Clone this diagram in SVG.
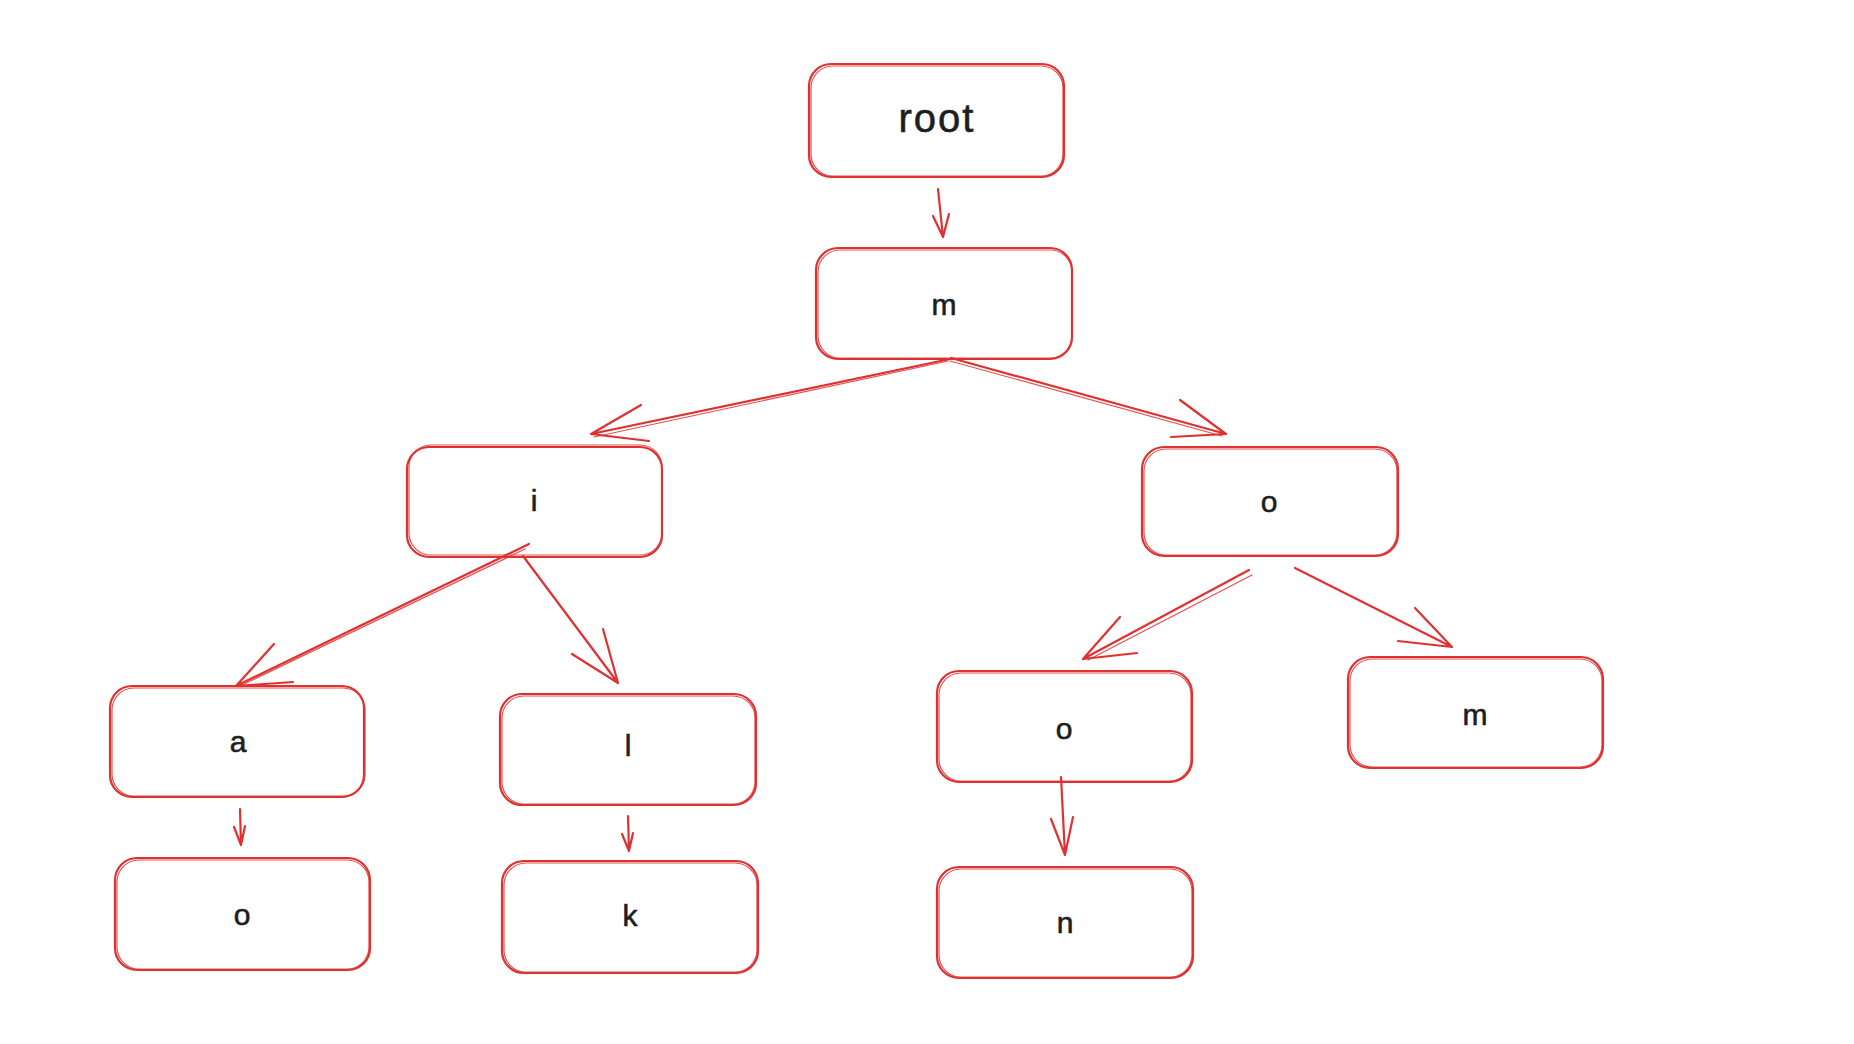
<svg xmlns="http://www.w3.org/2000/svg" width="1854" height="1044" viewBox="0 0 1854 1044">
<style>
.box{fill:#ffffff;stroke:#e03131;stroke-width:2.2}
.box2{fill:none;stroke:#e03131;stroke-width:1.2;opacity:0.85}
.lbl{font-family:"Liberation Sans","Noto Sans",sans-serif;fill:#1e1e1e;stroke:#1e1e1e;stroke-width:0.6;text-anchor:middle;dominant-baseline:central;font-size:30px}
.big{font-size:40px;letter-spacing:2px}
.edge{fill:none;stroke:#e03131;stroke-width:2.2;stroke-linecap:round;stroke-linejoin:round}
.edge2{fill:none;stroke:#e03131;stroke-width:1.2;stroke-linecap:round;opacity:0.85}
</style>
<rect width="1854" height="1044" fill="#ffffff"/>
<g id="node-root">
  <rect class="box" x="809" y="64" width="255" height="113" rx="22"/>
  <rect class="box2" x="811" y="66" width="252" height="110" rx="22"/>
  <text class="lbl big" x="937" y="118">root</text>
</g>
<g id="node-m">
  <rect class="box" x="816" y="248" width="256" height="111" rx="22"/>
  <rect class="box2" x="818" y="250" width="254" height="108" rx="22"/>
  <text class="lbl" x="944" y="304">m</text>
</g>
<g id="node-i">
  <rect class="box" x="407" y="447" width="255" height="110" rx="22"/>
  <rect class="box2" x="409" y="445" width="253" height="110" rx="22"/>
  <text class="lbl" x="534" y="500">i</text>
</g>
<g id="node-o">
  <rect class="box" x="1142" y="447" width="256" height="109" rx="22"/>
  <rect class="box2" x="1144" y="449" width="253" height="106" rx="22"/>
  <text class="lbl" x="1269" y="501">o</text>
</g>
<g id="node-a">
  <rect class="box" x="110" y="686" width="254" height="111" rx="22"/>
  <rect class="box2" x="112" y="688" width="253" height="108" rx="22"/>
  <text class="lbl" x="238" y="741">a</text>
</g>
<g id="node-l">
  <rect class="box" x="500" y="694" width="256" height="111" rx="22"/>
  <rect class="box2" x="502" y="696" width="253" height="108" rx="22"/>
  <text class="lbl" x="628" y="745">l</text>
</g>
<g id="node-o2">
  <rect class="box" x="937" y="671" width="255" height="111" rx="22"/>
  <rect class="box2" x="939" y="673" width="252" height="108" rx="22"/>
  <text class="lbl" x="1064" y="728">o</text>
</g>
<g id="node-m2">
  <rect class="box" x="1348" y="657" width="255" height="111" rx="22"/>
  <rect class="box2" x="1350" y="659" width="252" height="108" rx="22"/>
  <text class="lbl" x="1475" y="714">m</text>
</g>
<g id="node-o3">
  <rect class="box" x="115" y="858" width="255" height="112" rx="22"/>
  <rect class="box2" x="117" y="860" width="252" height="109" rx="22"/>
  <text class="lbl" x="242" y="914">o</text>
</g>
<g id="node-k">
  <rect class="box" x="502" y="861" width="256" height="112" rx="22"/>
  <rect class="box2" x="504" y="863" width="253" height="109" rx="22"/>
  <text class="lbl" x="630" y="915">k</text>
</g>
<g id="node-n">
  <rect class="box" x="937" y="867" width="256" height="111" rx="22"/>
  <rect class="box2" x="939" y="869" width="253" height="108" rx="22"/>
  <text class="lbl" x="1065" y="922">n</text>
</g>
<g id="connectors">
  <path class="edge" d="M938 189 L943 237 M933 216 L943 237 L949 214"/>
  <path class="edge" d="M950 359 L591 434 M641 405 L591 434 L649 441"/>
  <path class="edge2" d="M948 361 L594 437"/>
  <path class="edge" d="M951 358 L1226 434 M1180 400 L1226 434 L1171 437"/>
  <path class="edge2" d="M950 361 L1222 436"/>
  <path class="edge" d="M529 544 L236 686 M274 644 L236 686 L293 682"/>
  <path class="edge2" d="M525 549 L240 686"/>
  <path class="edge" d="M523 556 L618 683 M572 654 L618 683 L603 629"/>
  <path class="edge" d="M1249 570 L1083 659 M1120 617 L1083 659 L1137 653"/>
  <path class="edge2" d="M1252 575 L1088 660"/>
  <path class="edge" d="M1295 568 L1452 647 M1415 608 L1452 647 L1398 641"/>
  <path class="edge" d="M240 809 L241 845 M234 827 L241 845 L245 826"/>
  <path class="edge" d="M628 816 L629 851 M622 834 L629 851 L633 833"/>
  <path class="edge" d="M1061 777 L1065 855 M1051 819 L1065 855 L1073 817"/>
</g>
</svg>
